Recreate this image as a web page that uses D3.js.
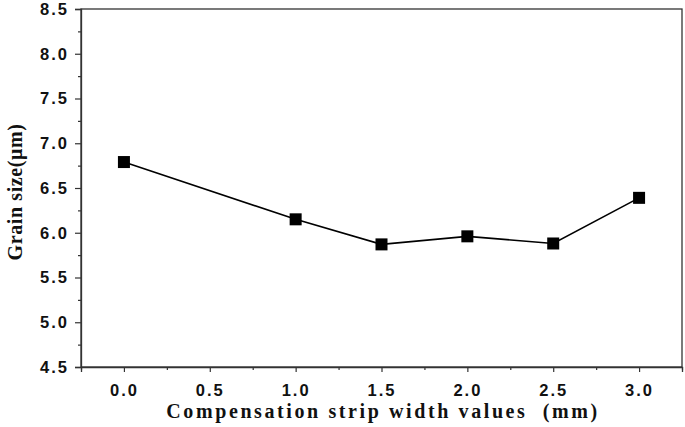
<!DOCTYPE html>
<html><head><meta charset="utf-8">
<script src="https://cdn.jsdelivr.net/npm/d3@7"></script>
<style>body{margin:0;background:#fff;}svg{display:block;}</style>
</head><body>
<svg id="c" width="685" height="427"></svg>
<script>
const xValues = [0.0, 1.0, 1.5, 2.0, 2.5, 3.0];
const grainSize = [6.79, 6.15, 5.87, 5.96, 5.88, 6.39];
const xTicks = [0.0, 0.5, 1.0, 1.5, 2.0, 2.5, 3.0];
const yTicks = [4.5, 5.0, 5.5, 6.0, 6.5, 7.0, 7.5, 8.0, 8.5];
const xLabel = "Compensation strip width values  (mm)";
const yLabel = "Grain size(\u03bcm)";

const svg = d3.select("#c");
const L = 81, R = 682, T = 9, B = 367;
const x = d3.scaleLinear().domain([-0.25, 3.25]).range([L, R]);
const y = d3.scaleLinear().domain([4.5, 8.5]).range([B, T]);

svg.append("rect").attr("x", L).attr("y", T).attr("width", R - L).attr("height", B - T)
  .attr("fill", "none").attr("stroke", "#333").attr("stroke-width", 1.3);

const tickFont = "Arial, 'Liberation Sans', sans-serif";
const yMinor = d3.range(4.75, 8.5, 0.5);
const xMinor = [-0.25, 0.25, 0.75, 1.25, 1.75, 2.25, 2.75, 3.25];

function styleTicks(g) {
  g.select(".domain").attr("stroke", "#333").attr("stroke-width", 1.3);
  g.selectAll(".tick line").attr("stroke", "#333").attr("stroke-width", 1.2);
  g.selectAll("text").attr("font-family", tickFont).attr("font-weight", "bold")
    .attr("font-size", 16.5).attr("letter-spacing", 2).attr("fill", "#111");
}

const yAxis = svg.append("g").attr("transform", `translate(${L},0)`)
  .call(d3.axisLeft(y).tickValues(yTicks).tickFormat(d3.format(".1f")).tickSizeOuter(0).tickSize(6).tickPadding(6));
styleTicks(yAxis);
svg.append("g").attr("transform", `translate(${L},0)`)
  .call(d3.axisLeft(y).tickValues(yMinor).tickFormat("").tickSizeOuter(0).tickSize(3))
  .call(g => { g.select(".domain").remove(); g.selectAll("line").attr("stroke", "#333").attr("stroke-width", 1.2); });

const xAxis = svg.append("g").attr("transform", `translate(0,${B})`)
  .call(d3.axisBottom(x).tickValues(xTicks).tickFormat(d3.format(".1f")).tickSizeOuter(0).tickSize(5).tickPadding(12));
styleTicks(xAxis);
svg.append("g").attr("transform", `translate(0,${B})`)
  .call(d3.axisBottom(x).tickValues(xMinor).tickFormat("").tickSizeOuter(0).tickSize(3))
  .call(g => { g.select(".domain").remove(); g.selectAll("line").attr("stroke", "#333").attr("stroke-width", 1.2); });

const data = xValues.map((v, i) => ({x: v, y: grainSize[i]}));
svg.append("path").datum(data)
  .attr("fill", "none").attr("stroke", "#000").attr("stroke-width", 1.6)
  .attr("d", d3.line().x(d => x(d.x)).y(d => y(d.y)));
const s = 12;
svg.selectAll("rect.pt").data(data).enter().append("rect").attr("class", "pt")
  .attr("x", d => x(d.x) - s / 2).attr("y", d => y(d.y) - s / 2)
  .attr("width", s).attr("height", s).attr("fill", "#000");

svg.append("text").attr("x", 383).attr("y", 418).attr("text-anchor", "middle")
  .style("white-space", "pre")
  .attr("font-family", "'Liberation Serif', 'Times New Roman', serif").attr("font-weight", "bold")
  .attr("font-size", 20).attr("letter-spacing", 2.6).attr("fill", "#111").text(xLabel);
svg.append("text").attr("transform", "translate(22,192) rotate(-90)").attr("text-anchor", "middle")
  .attr("font-family", "'Liberation Serif', 'Times New Roman', serif").attr("font-weight", "bold")
  .attr("font-size", 20).attr("letter-spacing", 0.6).attr("fill", "#111").text(yLabel);
</script>
</body></html>
